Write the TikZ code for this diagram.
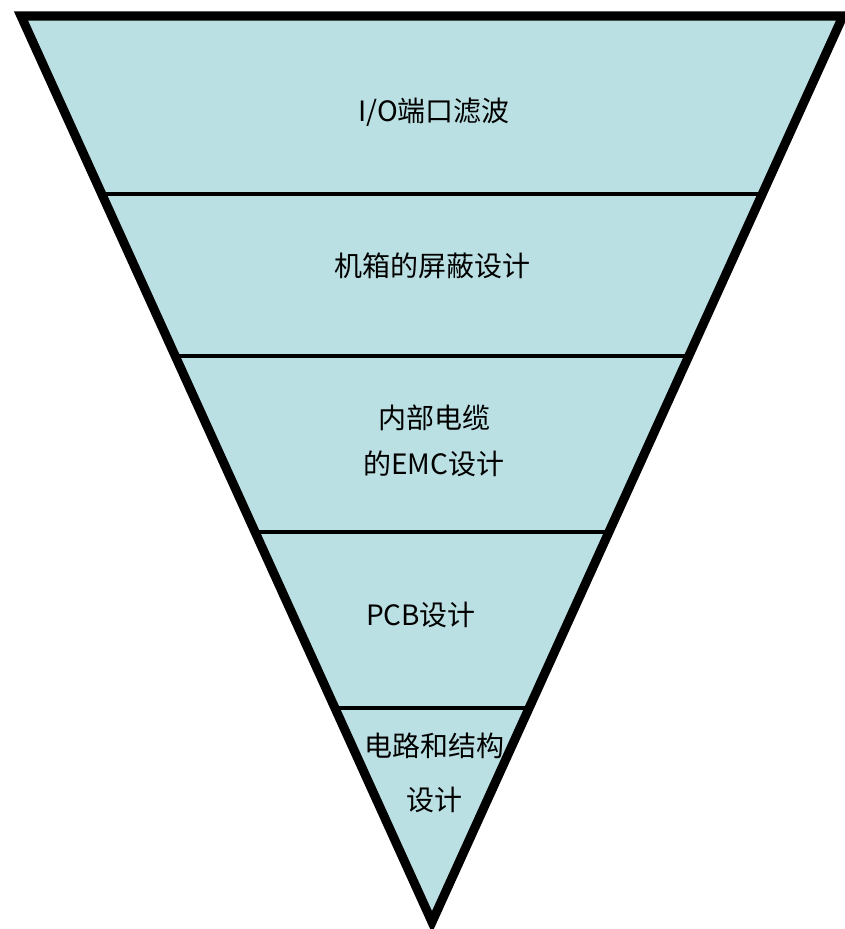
\documentclass[tikz,border=0pt]{standalone}
\usepackage{fontspec}
\setmainfont{Noto Sans CJK SC}
\usetikzlibrary{calc}
\definecolor{layerfill}{RGB}{187,224,227}
\tikzset{
  outline/.style={draw=black, line width=6.8pt, line join=miter},
  divider/.style={draw=black, line width=3.6pt},
  label/.style={font=\fontsize{21pt}{35pt}\selectfont, align=center, text=black, inner sep=0pt},
}
\begin{document}
\begin{tikzpicture}[x=0.75pt, y=-0.75pt]
\useasboundingbox (0,0) rectangle (845,929);
\coordinate (A) at (21,16);
\coordinate (B) at (843,16);
\coordinate (C) at (432,922);
\fill[layerfill] (A) -- (B) -- (C) -- cycle;
\foreach \t/\n in {0.1965/1, 0.3753/2, 0.5695/3, 0.7638/4}{
  \coordinate (L\n) at ($(A)!\t!(C)$);
  \coordinate (R\n) at ($(B)!\t!(C)$);
  \draw[divider] (L\n) -- (R\n);
}
\draw[outline] (A) -- (B) -- (C) -- cycle;
\node[label] (t1) at (434,112) {I/O端口滤波};
\node[label] (t2) at (432,266) {机箱的屏蔽设计};
\node[label] (t3) at (434,441) {内部电缆\\的EMC设计};
\node[label] (t4) at (421,615) {PCB设计};
\node[label, font=\fontsize{21pt}{40pt}\selectfont] (t5) at (434,773) {电路和结构\\设计};
\end{tikzpicture}
\end{document}
